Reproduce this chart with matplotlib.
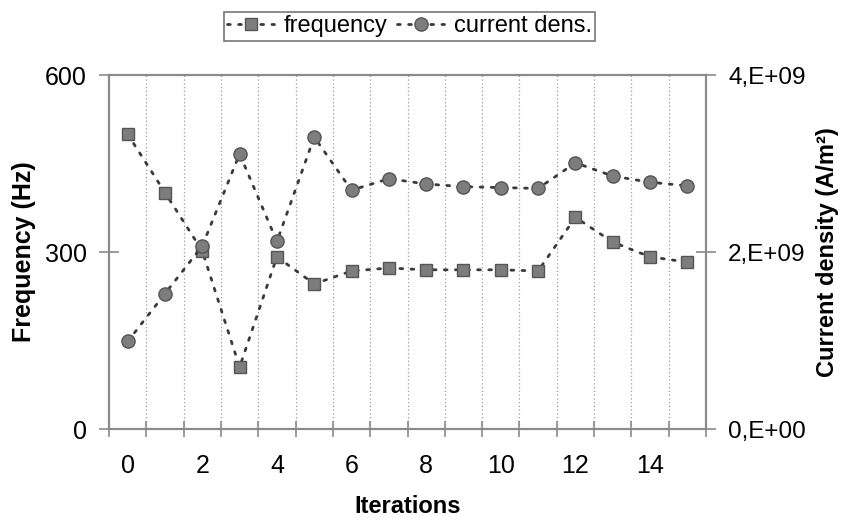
import numpy as np
import matplotlib
matplotlib.use("Agg")
import matplotlib.pyplot as plt

plt.rcParams['font.family'] = ['Liberation Sans', 'DejaVu Sans']

iterations = np.arange(16)
frequency = [500, 401, 302, 105, 292, 246, 268, 273, 270, 270, 270, 268, 359, 317, 292, 283]
current_dens = [0.99e9, 1.53e9, 2.07e9, 3.11e9, 2.12e9, 3.30e9, 2.70e9, 2.83e9,
                2.77e9, 2.74e9, 2.73e9, 2.72e9, 3.01e9, 2.86e9, 2.79e9, 2.75e9]
freq_ticks = [0, 300, 600]
dens_ticks = [0, 2e9, 4e9]
dens_ticklabels = ["0,E+00", "2,E+09", "4,E+09"]
x_ticklabels = [str(i) for i in range(0, 16, 2)]

axis_col = "#8a8a8a"
fill_col = "#7d7d7d"
edge_col = "#555555"
line_col = "#3a3a3a"

fig = plt.figure(figsize=(8.45, 5.26), dpi=100)
ax = fig.add_axes([0.129, 0.1844, 0.7065, 0.6726])
ax2 = ax.twinx()

# category boundaries carry the grid and the small ticks
bounds = np.arange(-0.5, 16, 1.0)
for b in bounds[1:-1]:
    ax.axvline(b, color="#9a9a9a", lw=0.9, ls=(0, (1, 2)), zorder=0)

l1, = ax.plot(iterations, frequency, ls=(0, (1, 3)), lw=2, color=line_col,
              dash_capstyle="round", marker="s", ms=8.5, mfc=fill_col, mec=edge_col,
              mew=1, zorder=3)
l2, = ax2.plot(iterations, current_dens, ls=(0, (1, 3)), lw=2, color=line_col,
               dash_capstyle="round", marker="o", ms=9.5, mfc=fill_col, mec=edge_col,
               mew=1, zorder=3)

ax.set_xlim(-0.5, 15.5)
ax.set_ylim(0, 600)
ax2.set_ylim(0, 4e9)

ax.set_xticks(bounds, minor=True)
ax.set_xticks(np.arange(0, 16, 2))
ax.set_xticklabels(x_ticklabels)
ax.tick_params(axis="x", which="major", length=0, pad=18, labelsize=18)
ax.tick_params(axis="x", which="minor", direction="inout", length=12, width=1.2, color=axis_col)

ax.set_yticks(freq_ticks)
ax.tick_params(axis="y", direction="inout", length=14, width=1.2, color=axis_col,
               labelsize=18, pad=9)
ax2.set_yticks(dens_ticks)
ax2.set_yticklabels(dens_ticklabels)
ax2.tick_params(axis="y", direction="inout", length=14, width=1.2, color=axis_col,
                labelsize=17.5, pad=9)

for a in (ax, ax2):
    for s in a.spines.values():
        s.set_color(axis_col)
        s.set_linewidth(1.5)

ax.set_xlabel("Iterations", fontsize=17, fontweight="bold", labelpad=12)
ax.set_ylabel("Frequency (Hz)", fontsize=18, fontweight="bold", labelpad=6)
ax2.set_ylabel("Current density (A/m²)", fontsize=17, fontweight="bold", labelpad=7)

leg = fig.legend([l1, l2], ["frequency", "current dens."], loc="upper center",
                 bbox_to_anchor=(0.4845, 1.0), ncol=2, fontsize=17, frameon=True,
                 fancybox=False, edgecolor="#555555", handlelength=2.0,
                 handletextpad=0.4, columnspacing=0.4, borderpad=0.15)
leg.get_frame().set_linewidth(1.2)

fig.savefig("out.png", dpi=100)
